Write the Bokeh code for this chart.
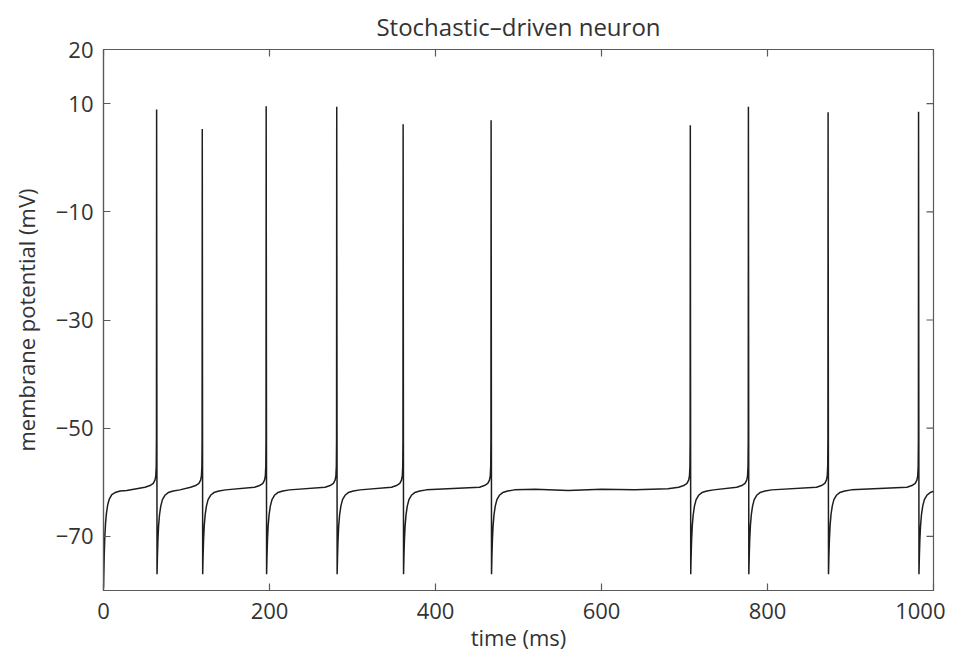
import math
from bokeh.plotting import figure
from bokeh.models import FixedTicker, Range1d
from bokeh.embed import file_html
from bokeh.resources import INLINE

# ---- data ----
start_t = [0, 0.8, 1.6, 2.5, 3.5, 5, 7, 10, 14, 20, 28]
start_v = [-79.5, -74, -70, -67.5, -65.8, -64.2, -63.1, -62.3, -61.9, -61.6, -61.5]

spike_times = [64, 119, 196, 281, 361, 467, 707, 777, 873, 982]
spike_peaks = [8.9, 5.3, 9.5, 9.4, 6.2, 6.9, 6.0, 9.4, 8.4, 8.5]
spike_troughs = [-77.0, -77.0, -77.0, -77.0, -77.0, -77.0, -77.0, -77.0, -77.0, -77.0]

pre_offsets = [-14, -8, -4, -2, -1, -0.45, -0.2]
pre_values = [-60.9, -60.6, -60.2, -59.6, -58.8, -57.0, -52.0]
trough_offset = 0.5
post_offsets = [1.0, 1.6, 2.4, 3.5, 5, 7, 10, 14, 20, 28]
post_values = [-73.5, -70.5, -68.0, -66.0, -64.4, -63.2, -62.4, -61.9, -61.6, -61.4]

# slow baseline wander read in the long quiet stretch
quiet_t = [520, 560, 600, 640, 680]
quiet_v = [-61.3, -61.5, -61.3, -61.4, -61.2]

x_ticks = [0, 200, 400, 600, 800, 1000]
y_ticks = [20, 10, -10, -30, -50, -70]
x_lo, x_hi = 0, 1000
y_lo, y_hi = -80, 20

# ---- build the trace ----
pts = list(zip(start_t, start_v))
for st, pk, tr in zip(spike_times, spike_peaks, spike_troughs):
    pts += [(st + o, v) for o, v in zip(pre_offsets, pre_values)]
    pts.append((st, pk))
    pts.append((st + trough_offset, tr))
    pts += [(st + o, v) for o, v in zip(post_offsets, post_values)]
pts += list(zip(quiet_t, quiet_v))
pts.sort(key=lambda a: a[0])
t = [a[0] for a in pts]
v = [a[1] for a in pts]

FONT = "Open Sans"
TXT = "#333333"
AX = "#5a5a5a"

p = figure(width=945, height=654, output_backend="svg", toolbar_location=None,
           x_range=Range1d(x_lo, x_hi), y_range=Range1d(y_lo, y_hi),
           min_border_left=103, min_border_right=12, min_border_top=48, min_border_bottom=64,
           title="Stochastic\u2013driven neuron")
p.title.align = "center"
p.title.text_font = FONT
p.title.text_font_size = "24px"
p.title.text_font_style = "normal"
p.title.text_color = TXT
p.title.offset = 0
p.title.standoff = 14

p.grid.visible = False
p.outline_line_color = AX
p.outline_line_width = 1.2
p.background_fill_color = "white"
p.border_fill_color = "white"

p.line(t, v, line_color="#1e1e1e", line_width=1.5)

# box ticks on the top and right edges (clipped to the frame)
p.scatter(x=x_ticks, y=[y_hi] * len(x_ticks), marker="dash", size=14, angle=math.pi / 2,
          line_color=AX, line_width=1.2)
p.scatter(x=[x_hi] * len(y_ticks), y=y_ticks, marker="dash", size=14,
          line_color=AX, line_width=1.2)

def style(ax):
    ax.axis_line_color = AX
    ax.axis_line_width = 1.2
    ax.major_tick_line_color = AX
    ax.major_tick_line_width = 1.2
    ax.major_tick_in = 7
    ax.major_tick_out = 0
    ax.minor_tick_line_color = None
    ax.major_label_text_font = FONT
    ax.major_label_text_font_size = "22px"
    ax.major_label_text_color = TXT
    ax.axis_label_text_font = FONT
    ax.axis_label_text_font_size = "22px"
    ax.axis_label_text_font_style = "normal"
    ax.axis_label_text_color = TXT

xa = p.xaxis[0]
xa.ticker = FixedTicker(ticks=x_ticks)
xa.major_label_overrides = {k: str(k) for k in x_ticks}
xa.axis_label = "time (ms)"
style(xa)
xa.major_label_standoff = 12
xa.axis_label_standoff = 0

ya = p.yaxis[0]
ya.ticker = FixedTicker(ticks=y_ticks)
ya.major_label_overrides = {k: str(k).replace("-", "\u2212") for k in y_ticks}
ya.axis_label = "membrane potential (mV)"
style(ya)
ya.major_label_standoff = 10
ya.axis_label_standoff = 12

open("out.html", "w").write(file_html(p, INLINE))
